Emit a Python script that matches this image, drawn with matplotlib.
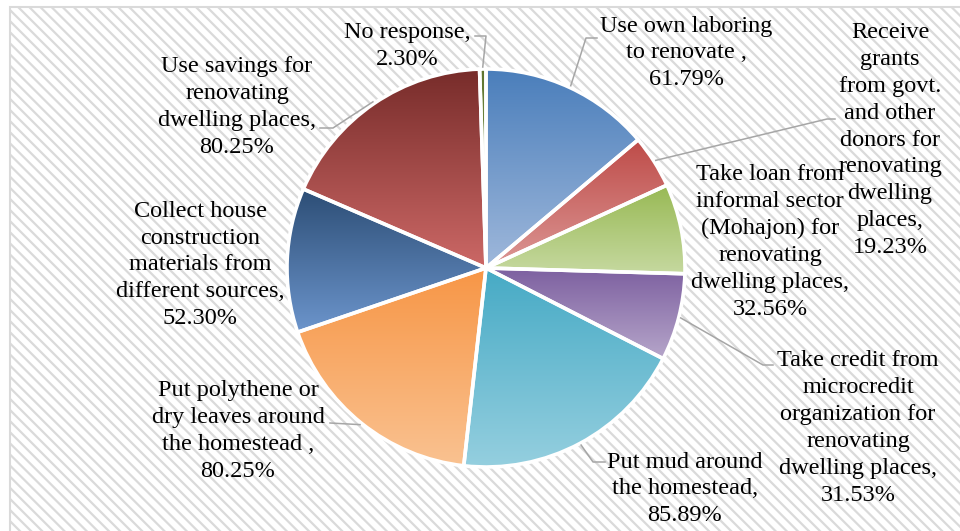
import numpy as np
import matplotlib.pyplot as plt
from matplotlib.colors import LinearSegmentedColormap
from matplotlib.patches import Rectangle

W, H = 960, 531

labels = [
    "Use own laboring\nto renovate ,",
    "Receive\ngrants\nfrom govt.\nand other\ndonors for\nrenovating\ndwelling\nplaces,",
    "Take loan from\ninformal sector\n(Mohajon) for\nrenovating\ndwelling places,",
    "Take credit from\nmicrocredit\norganization for\nrenovating\ndwelling places,",
    "Put mud around\nthe homestead,",
    "Put polythene or\ndry leaves around\nthe homestead ,",
    "Collect house\nconstruction\nmaterials from\ndifferent sources,",
    "Use savings for\nrenovating\ndwelling places,",
    "No response,",
]
values = [61.79, 19.23, 32.56, 31.53, 85.89, 80.25, 52.30, 80.25, 2.30]

# top -> bottom gradient of each slice
top_colors = ["#4a7ebb", "#be4b48", "#98b954", "#7d60a0", "#46aac5",
              "#f79646", "#2c4d75", "#772c2a", "#5f7530"]
bottom_colors = ["#9fb8db", "#dc9795", "#c6d9a0", "#b6a6ca", "#95cfdf",
                 "#fac291", "#6c95cc", "#cc6866", "#8ea85e"]

# label centres (pixels from top-left)
label_xy = [(686, 53), (890, 140), (770, 242), (858, 428), (685, 489),
            (238, 431), (200, 265), (237, 107), (407, 46)]
# leader line elbow and end point, None where the label has no leader
leaders = [
    [(586, 38), (597, 38)],
    [(827, 119), (835, 119)],
    None,
    [(763, 365), (773, 365)],
    [(593, 462), (605, 462)],
    [(330, 423)],
    None,
    [(333, 128), (320, 128)],
    [(486, 36), (475, 36)],
]

cx, cy, r = 486, 268, 199

plt.rcParams['hatch.linewidth'] = 1.6
fig = plt.figure(figsize=(9.6, 5.31), dpi=100)
ax = fig.add_axes([0, 0, 1, 1])

# striped chart area
ax.add_patch(Rectangle((9.5, -20), 1000, H - 7 + 20, facecolor='white',
                       edgecolor='#dadada', lw=1.5, hatch='\\\\\\', zorder=0))

wedges, _ = ax.pie(values, startangle=90, counterclock=False,
                   center=(cx, H - cy), radius=r,
                   wedgeprops=dict(edgecolor='white', linewidth=2.6))

grad = np.linspace(0, 1, 256).reshape(-1, 1)
for w, c0, c1 in zip(wedges, top_colors, bottom_colors):
    bb = w.get_path().get_extents()
    cm = LinearSegmentedColormap.from_list('g', [c0, c1])
    im = ax.imshow(grad, cmap=cm, extent=[bb.x0, bb.x1, bb.y0, bb.y1],
                   origin='upper', aspect='auto', zorder=2)
    im.set_clip_path(w)
    w.set_facecolor('none')
    w.set_zorder(3)

for w, lab, val, (lx, ly), ld in zip(wedges, labels, values, label_xy, leaders):
    ax.text(lx, H - ly, f"{lab}\n{val:.2f}%", ha='center', va='center',
            multialignment='center', family='Liberation Serif',
            fontsize=17.5, linespacing=1.37, zorder=5)
    if ld is None:
        continue
    mid = np.deg2rad((w.theta1 + w.theta2) / 2)
    xs = [cx + r * 1.01 * np.cos(mid)] + [p[0] for p in ld]
    ys = [H - cy + r * 1.01 * np.sin(mid)] + [H - p[1] for p in ld]
    ax.plot(xs, ys, color='#a6a6a6', lw=1.1, zorder=4)

ax.set_xlim(0, W)
ax.set_ylim(0, H)
ax.set_aspect('equal')
ax.axis('off')

fig.savefig('out.png', dpi=100)
